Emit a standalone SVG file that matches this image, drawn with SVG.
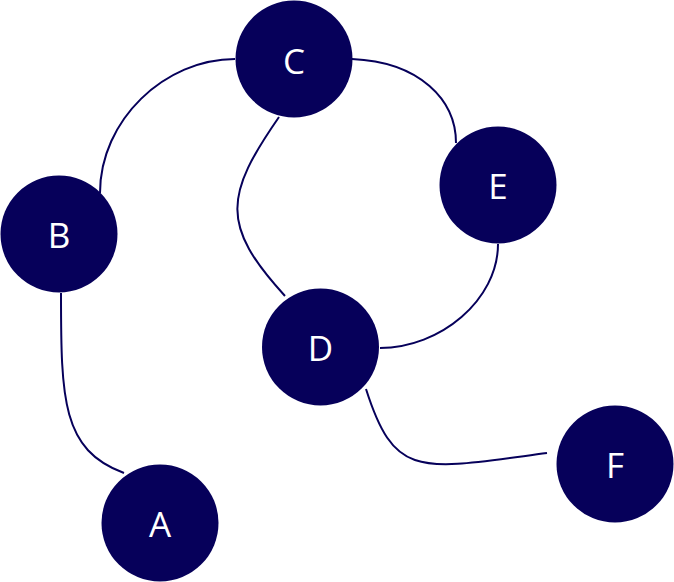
<svg xmlns="http://www.w3.org/2000/svg" width="674" height="582" viewBox="0 0 674 582">
<style>
.node circle{fill:#06005a}
.node text{fill:#ffffff;font-family:"Open Sans","Noto Sans",sans-serif;font-size:35px;text-anchor:middle}
.links path{fill:none;stroke:#06005a;stroke-width:2}
</style>
<rect width="674" height="582" fill="#ffffff"/>
<g class="links">
<path d="M235,59 C165,59 100,120 100,193"/>
<path d="M279,117 C225,195 220,225 285,296"/>
<path d="M352,59 C420,62 456,100 456,143"/>
<path d="M498,244 C498,300 440,348 380,348"/>
<path d="M61,293 C61,400 62,450 124,473"/>
<path d="M366,389 C395,480 420,470 547,453"/>
</g>
<g id="node-C" class="node"><circle cx="294" cy="59" r="58.5"/><text x="294" y="74">C</text></g>
<g id="node-B" class="node"><circle cx="59" cy="234" r="58.5"/><text x="59" y="248">B</text></g>
<g id="node-E" class="node"><circle cx="498" cy="185" r="58.5"/><text x="498" y="199">E</text></g>
<g id="node-D" class="node"><circle cx="320.5" cy="347" r="58.5"/><text x="320.5" y="361">D</text></g>
<g id="node-A" class="node"><circle cx="160" cy="523" r="58.5"/><text x="160" y="537">A</text></g>
<g id="node-F" class="node"><circle cx="615" cy="464" r="58.5"/><text x="615" y="478">F</text></g>
</svg>
